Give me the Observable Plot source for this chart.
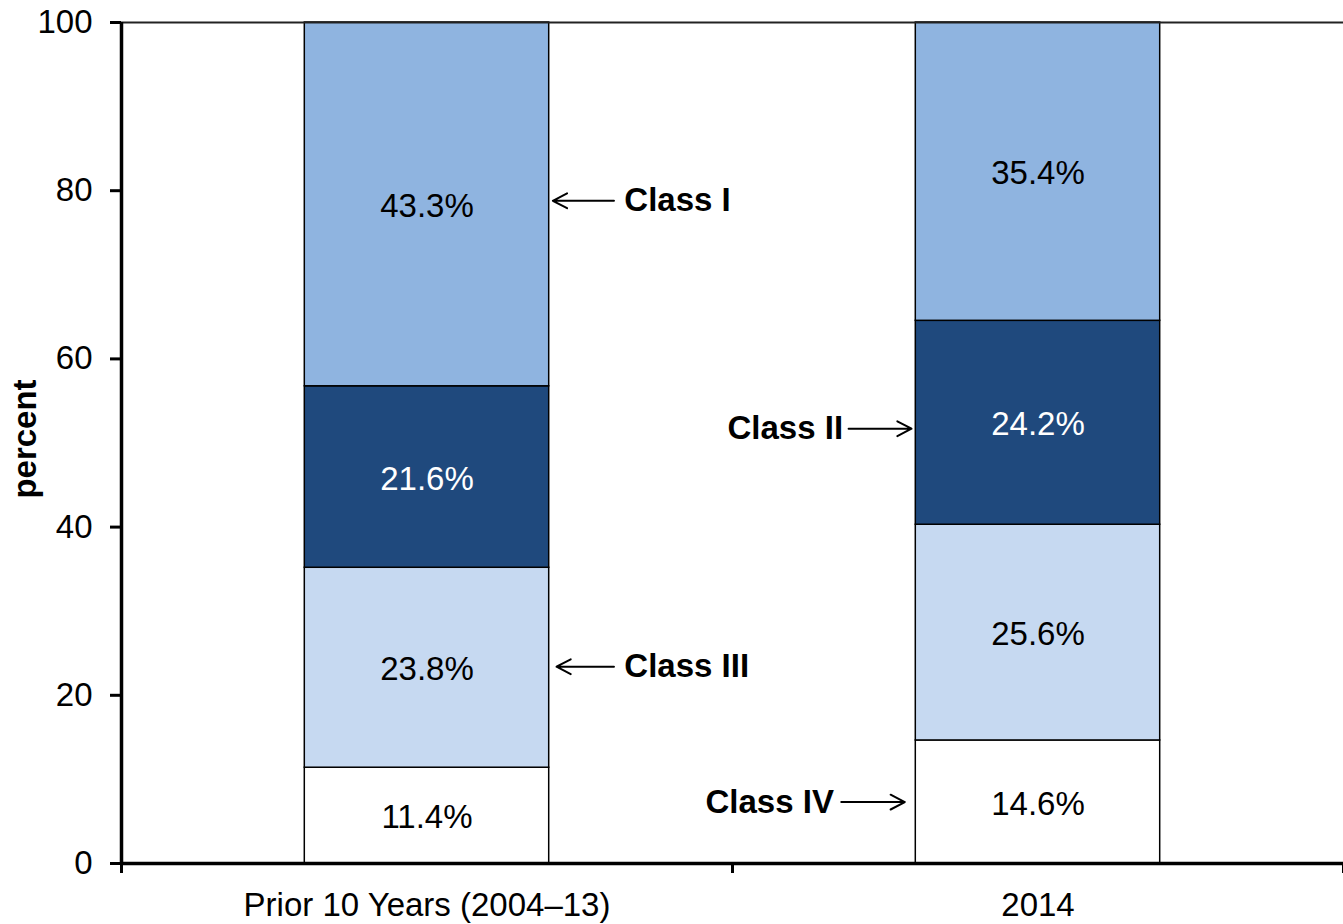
<!DOCTYPE html>
<html>
<head>
<meta charset="utf-8">
<script src="https://cdn.jsdelivr.net/npm/d3@7"></script>
<script src="https://cdn.jsdelivr.net/npm/@observablehq/plot@0.6"></script>
<style>
  html, body { margin: 0; padding: 0; background: #fff; }
  #chart { width: 1343px; height: 924px; }
</style>
</head>
<body>
<div id="chart"></div>
<script>
// ---- data ----
const categories = ["Prior 10 Years (2004–13)", "2014"];
const classes = ["Class IV", "Class III", "Class II", "Class I"];
const priorValues = [11.4, 23.8, 21.6, 43.3];
const values2014 = [14.6, 25.6, 24.2, 35.4];
const classColors = ["#FFFFFF", "#C6D9F1", "#1F497D", "#8FB4E0"];
const labelColors = ["#000000", "#000000", "#FFFFFF", "#000000"];
const yTicks = [0, 20, 40, 60, 80, 100];

// annotation callouts (data coordinates: x in category units, y in percent)
const callouts = [
  {label: "Class I",   textX: 0.823, arrowFrom: 0.806, arrowTo: 0.706, y: 78.8, anchor: "start"},
  {label: "Class III", textX: 0.823, arrowFrom: 0.806, arrowTo: 0.712, y: 23.4, anchor: "start"},
  {label: "Class II",  textX: 1.181, arrowFrom: 1.190, arrowTo: 1.293, y: 51.7, anchor: "end"},
  {label: "Class IV",  textX: 1.166, arrowFrom: 1.178, arrowTo: 1.282, y: 7.3,  anchor: "end"}
];

// ---- build table (100% stacked) ----
const seriesByCategory = [priorValues, values2014];
const rows = [];
categories.forEach((cat, i) => {
  const vals = seriesByCategory[i];
  const total = d3.sum(vals);
  let base = 0;
  vals.forEach((v, j) => {
    rows.push({category: cat, index: i, cls: classes[j], value: v,
      y1: base / total * 100, y2: (base + v) / total * 100,
      color: classColors[j], labelColor: labelColors[j]});
    base += v;
  });
});

const barHalf = 0.2;
const font = "'Liberation Sans', Arial, Helvetica, sans-serif";
const fs = 33;

const chart = Plot.plot({
  width: 1343,
  height: 924,
  marginLeft: 121,
  marginRight: 0,
  marginTop: 22,
  marginBottom: 61,
  style: {fontFamily: font, fontSize: fs + "px", color: "#000", background: "#fff", overflow: "visible"},
  x: {type: "linear", domain: [0, categories.length]},
  y: {domain: [0, 100]},
  marks: [
    Plot.rect(rows, {
      x1: d => d.index + 0.5 - barHalf,
      x2: d => d.index + 0.5 + barHalf,
      y1: "y1",
      y2: "y2",
      fill: d => d.color,
      stroke: "#000",
      strokeWidth: 1.5
    }),
    Plot.text(rows, {
      x: d => d.index + 0.5,
      y: d => (d.y1 + d.y2) / 2,
      text: d => d.value.toFixed(1) + "%",
      fill: d => d.labelColor,
      fontSize: fs,
      dy: 2
    }),
    Plot.ruleY([100], {stroke: "#222", strokeWidth: 2}),
    Plot.axisY({
      ticks: yTicks,
      tickSize: 11,
      tickPadding: 18,
      strokeWidth: 3,
      fontSize: fs,
      label: null
    }),
    Plot.axisX({
      ticks: d3.range(categories.length + 1),
      tickSize: 10,
      strokeWidth: 3,
      tickFormat: () => "",
      label: null
    }),
    Plot.axisX({
      ticks: categories.map((c, i) => i + 0.5),
      tickSize: 0,
      tickPadding: 29,
      fontSize: fs,
      tickFormat: d => categories[Math.floor(d)],
      label: null
    }),
    Plot.ruleX([0], {stroke: "#000", strokeWidth: 3.5}),
    Plot.ruleY([0], {stroke: "#000", strokeWidth: 3.5}),
    Plot.text(["percent"], {
      frameAnchor: "left",
      textAnchor: "middle",
      rotate: -90,
      dx: -96,
      dy: -4,
      fontWeight: "bold",
      fontSize: fs
    }),
    Plot.arrow(callouts, {
      x1: "arrowFrom",
      x2: "arrowTo",
      y1: "y",
      y2: "y",
      bend: 0,
      headLength: 12,
      headAngle: 55,
      stroke: "#000",
      strokeWidth: 2
    }),
    Plot.text(callouts, {
      x: "textX",
      y: "y",
      text: "label",
      textAnchor: "start",
      fontWeight: "bold",
      fontSize: fs,
      filter: d => d.anchor === "start"
    }),
    Plot.text(callouts, {
      x: "textX",
      y: "y",
      text: "label",
      textAnchor: "end",
      fontWeight: "bold",
      fontSize: fs,
      filter: d => d.anchor === "end"
    })
  ]
});

document.getElementById("chart").appendChild(chart);
</script>
</body>
</html>
